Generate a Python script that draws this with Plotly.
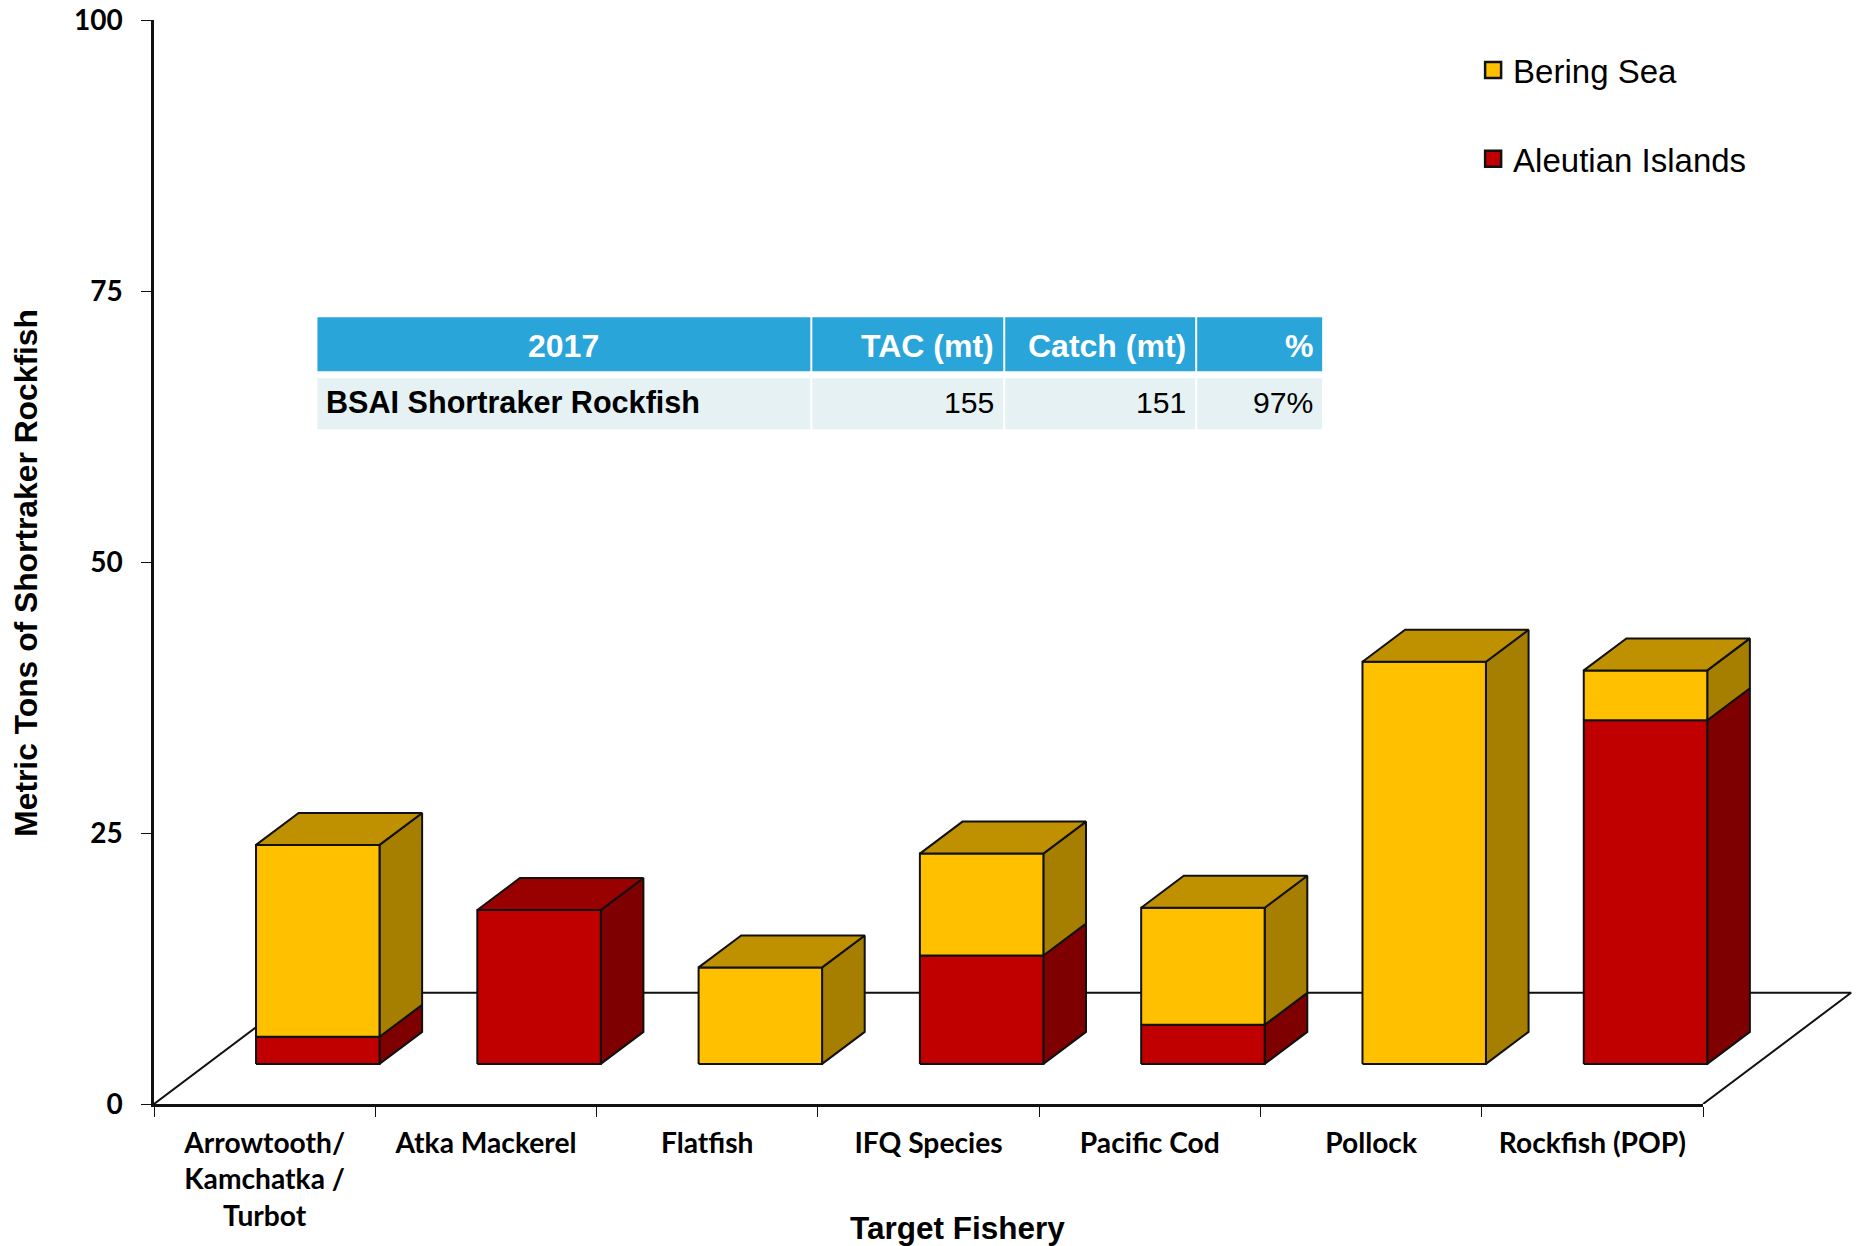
import plotly.graph_objects as go

# ---- data ----
categories = ["Arrowtooth/<br>Kamchatka /<br>Turbot", "Atka Mackerel", "Flatfish", "IFQ Species",
              "Pacific Cod", "Pollock", "Rockfish (POP)"]
aleutian_islands = [2.5, 14.2, 0, 10.0, 3.6, 0, 31.7]
bering_sea = [17.7, 0, 8.9, 9.4, 10.8, 37.1, 4.6]
y_ticks = [0, 25, 50, 75, 100]
table_header = ["2017", "TAC (mt)", "Catch (mt)", "%"]
table_row = ["BSAI Shortraker Rockfish", "155", "151", "97%"]

# ---- 3-D look, in axis units ----
BAR_W, BAR_SHIFT, BAR_BASE = 0.558, 0.24, 3.7
DX, DY = 0.1926, 2.95
FLOOR_DX, FLOOR_DY = 0.669, 10.26
STYLE = {
    "Bering Sea": dict(front="#FFC000", side="#A67F00", top="#BF9000"),
    "Aleutian Islands": dict(front="#C00000", side="#7F0000", top="#990000"),
}
W, H = 1857, 1246
L, R, T, B = 153.5, 4, 19.5, 142
AXIS_END = 1703  # pixel where the category axis stops

fig = go.Figure()


def poly(xs, ys, color, width=2):
    fig.add_trace(go.Scatter(x=xs + xs[:1], y=ys + ys[:1], mode="lines", fill="toself", fillcolor=color,
                             line=dict(color="#111", width=width),
                             showlegend=False, hoverinfo="skip"))


n = len(categories)
PW, PH = W - L - R, H - T - B
axis_frac = (AXIS_END - L) / PW
x_max = n / axis_frac

# floor
fig.add_trace(go.Scatter(x=[0, FLOOR_DX, n + FLOOR_DX, n], y=[0, FLOOR_DY, FLOOR_DY, 0], mode="lines",
                         line=dict(color="#111", width=2), showlegend=False, hoverinfo="skip"))

# bars
for i in range(n):
    x0 = i + 0.5 + BAR_SHIFT - BAR_W / 2
    x1 = x0 + BAR_W
    base = BAR_BASE
    segs = [("Aleutian Islands", aleutian_islands[i]), ("Bering Sea", bering_sea[i])]
    segs = [s for s in segs if s[1] > 0]
    for k, (name, v) in enumerate(segs):
        st = STYLE[name]
        y0, y1 = base, base + v
        poly([x1, x1 + DX, x1 + DX, x1], [y0, y0 + DY, y1 + DY, y1], st["side"])
        poly([x0, x1, x1, x0], [y0, y0, y1, y1], st["front"])
        if k == len(segs) - 1:
            poly([x0, x1, x1 + DX, x0 + DX], [y1, y1, y1 + DY, y1 + DY], st["top"])
        base = y1

# carries the visible category axis, which stops short of the floor's far corner
fig.add_trace(go.Scatter(x=[None], y=[None], xaxis="x2", yaxis="y", showlegend=False, hoverinfo="skip"))

# legend
for name in ["Bering Sea", "Aleutian Islands"]:
    fig.add_trace(go.Scatter(x=[None], y=[None], mode="markers", name=name, legendgroup=name,
                             marker=dict(symbol="square", size=20, color=STYLE[name]["front"],
                                         line=dict(color="#111", width=2.5))))

# summary table
col_edges = [316, 811, 1004, 1196, 1323]
rows = [(317, 371, "#29A5DA", table_header, "white", True), (378, 429, "#E6F1F4", table_row, "black", False)]
shapes, annos = [], []
for top, bot, fill, texts, color, is_head in rows:
    for c, txt in enumerate(texts):
        a, b = col_edges[c], col_edges[c + 1]
        shapes.append(dict(type="rect", xref="paper", yref="paper", layer="above", line_width=0, fillcolor=fill,
                           x0=(a + 1 - L) / PW, x1=(b - 1 - L) / PW,
                           y0=(H - B - bot) / PH, y1=(H - B - top) / PH))
        bold = is_head or c == 0
        if c == 0 and is_head:
            xa, anchor = (a + b) / 2, "center"
        elif c == 0:
            xa, anchor = a + 8, "left"
        else:
            xa, anchor = b - 8, "right"
        yc = (top + bot) / 2 + (2 if is_head else -1.5)
        size = 32 if is_head else (30.6 if c == 0 else 30.2)
        annos.append(dict(xref="paper", yref="paper", x=(xa - L) / PW, y=(H - B - yc) / PH,
                          xanchor=anchor, yanchor="middle", showarrow=False,
                          text=f"<b>{txt}</b>" if bold else txt,
                          font=dict(family="Liberation Sans", size=size, color=color)))

# axis titles (off-centre in the reference)
annos.append(dict(xref="paper", yref="paper", x=(957 - L) / PW, y=(H - B - 1228) / PH, xanchor="center", yanchor="middle",
                  showarrow=False, text="<b>Target Fishery</b>",
                  font=dict(family="Liberation Sans", size=31.5, color="black")))
annos.append(dict(xref="paper", yref="paper", x=(26 - L) / PW, y=(H - B - 573) / PH, xanchor="center", yanchor="middle",
                  showarrow=False, textangle=-90, text="<b>Metric Tons of Shortraker Rockfish</b>",
                  font=dict(family="Liberation Sans", size=31.8, color="black")))

fig.update_layout(
    width=W, height=H, margin=dict(l=L, r=R, t=T, b=B), paper_bgcolor="white", plot_bgcolor="rgba(0,0,0,0)",
    shapes=shapes, annotations=annos,
    legend=dict(x=(1473 - L) / PW, y=0.9797, xanchor="left", yanchor="top", tracegroupgap=43, itemsizing="trace",
                font=dict(family="Liberation Sans", size=33, color="black"), bgcolor="rgba(0,0,0,0)"),
    xaxis=dict(range=[0, x_max], visible=False, domain=[0, 1], automargin=False),
    xaxis2=dict(domain=[0, axis_frac], range=[0, n], anchor="y",
                tickvals=[i + 0.5 for i in range(n)], ticktext=categories, ticks="",
                showline=True, linecolor="#111", linewidth=2.5, showgrid=False, zeroline=False,
                ticklabelstandoff=12,
                minor=dict(tickmode="array", tickvals=list(range(n + 1)), ticks="outside", ticklen=10, tickwidth=1.2,
                           tickcolor="#111", showgrid=False),
                tickfont=dict(family="Lato", size=28.2, color="black", weight="bold"),
                automargin=False),
    yaxis=dict(range=[0, 100], tickvals=y_ticks, ticks="outside", ticklen=10, tickwidth=1.2, tickcolor="#111",
               showline=True, linecolor="#111", linewidth=2.5, showgrid=False, zeroline=False,
               ticklabelstandoff=13,
               tickfont=dict(family="Lato", size=28, color="black", weight="bold"),
               automargin=False),
)
fig.write_html("out.html", config={"displayModeBar": False}, post_script="document.body.style.margin='0';")
